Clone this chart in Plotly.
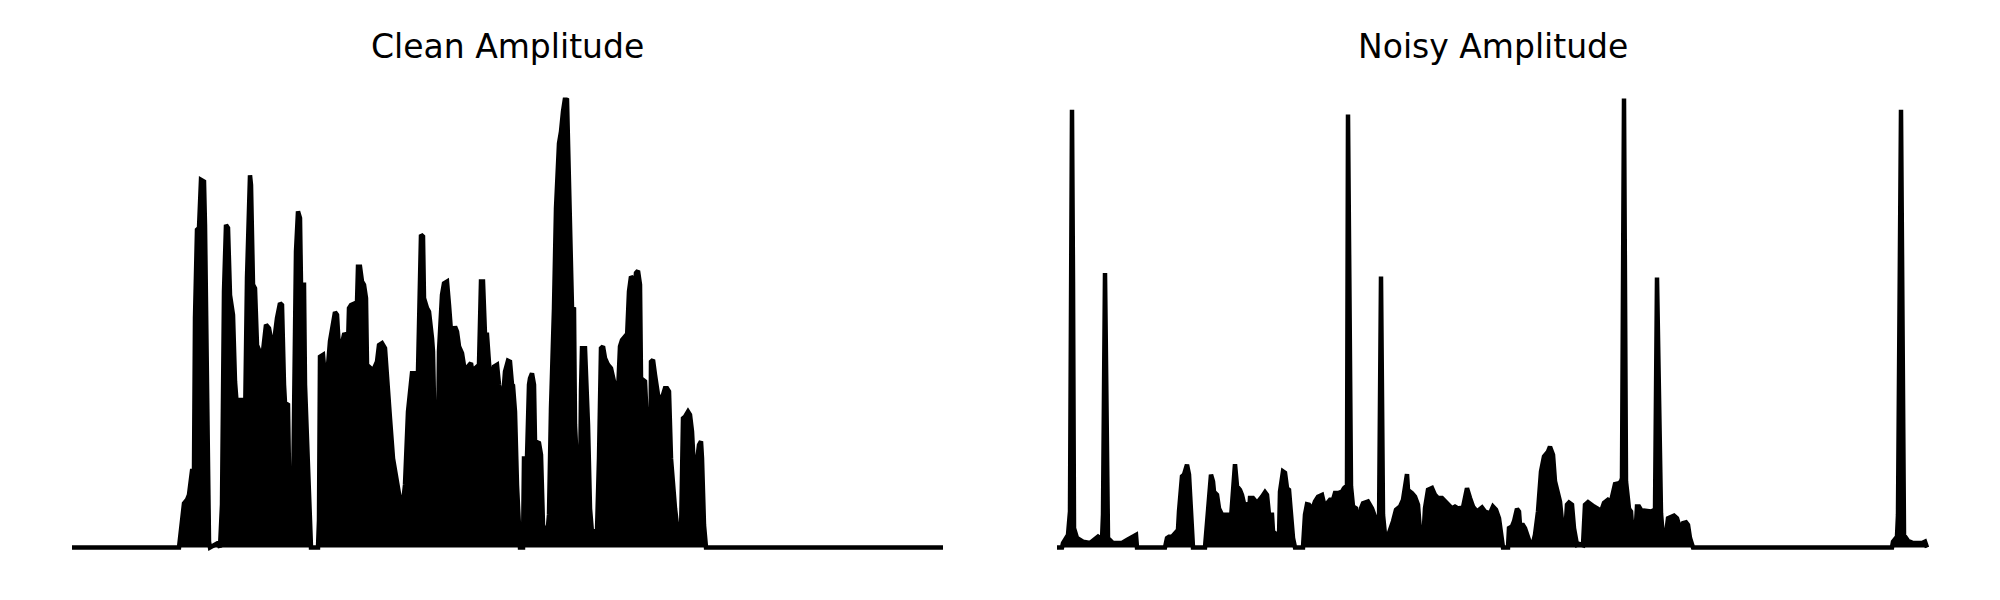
import plotly.graph_objects as go

# Envelope of the amplitude traces (frame index, normalised amplitude)
clean_frame = [0, 107, 112, 115, 117, 120, 122, 123, 125, 127, 129, 132, 133, 134, 137, 138, 146, 148,
               150, 152, 154, 156, 157, 158, 161, 163, 165, 168, 170, 172, 173, 175, 178, 179, 181, 183,
               185, 188, 189, 190, 191, 194, 197, 201, 205, 208, 210, 212, 213, 216, 217, 221, 222, 224,
               226, 228, 229, 232, 233, 237, 239, 246, 247, 248, 251, 253, 255, 258, 261, 263, 265, 267,
               269, 272, 274, 276, 277, 279, 283, 285, 286, 288, 290, 292, 294, 295, 299, 301, 302, 305,
               307, 310, 313, 315, 318, 321, 326, 330, 333, 336, 340, 343, 346, 347, 349, 351, 352, 355,
               357, 360, 361, 363, 365, 367, 370, 372, 375, 377, 379, 381, 383, 385, 387, 390, 392, 394,
               396, 399, 401, 403, 405, 407, 409, 411, 413, 415, 417, 419, 422, 425, 427, 429, 431, 433,
               436, 438, 440, 441, 443, 445, 448, 451, 452, 455, 457, 458, 460, 462, 463, 467, 469, 471,
               473, 475, 477, 479, 482, 484, 487, 489, 491, 493, 495, 497, 499, 500, 502, 503, 506, 508,
               509, 510, 513, 514, 516, 518, 521, 523, 525, 527, 529, 531, 533, 536, 539, 542, 544, 546,
               548, 550, 553, 555, 557, 559, 561, 563, 564, 566, 568, 569, 573, 575, 578, 579, 581, 583,
               586, 588, 590, 593, 595, 597, 599, 603, 607, 609, 611, 613, 616, 618, 620, 622, 624, 627,
               629, 630, 632, 634, 871]
clean_amp = [0.0, 0.0, 0.098, 0.106, 0.117, 0.170, 0.170, 0.510, 0.706, 0.710, 0.817, 0.813, 0.717, 0.524,
             0.013, 0.0, 0.01, 0.0,
             0.095, 0.569, 0.717, 0.710, 0.569, 0.561, 0.517, 0.369, 0.310, 0.328, 0.328, 0.302, 0.273,
             0.598, 0.827, 0.806, 0.584, 0.576,
             0.450, 0.436, 0.428, 0.213, 0.436, 0.495, 0.487, 0.439, 0.510, 0.543, 0.539, 0.362, 0.321,
             0.317, 0.169, 0.102, 0.362, 0.658,
             0.747, 0.732, 0.584, 0.584, 0.362, 0.065, 0.0, 0.0, 0.061, 0.424, 0.428, 0.376, 0.376, 0.458,
             0.495, 0.523, 0.517, 0.439,
             0.443, 0.473, 0.474, 0.450, 0.532, 0.539, 0.543, 0.543, 0.624, 0.624, 0.591, 0.584, 0.554,
             0.406, 0.398, 0.198, 0.398, 0.413,
             0.450, 0.454, 0.443, 0.369, 0.287, 0.198, 0.124, 0.080, 0.139, 0.302, 0.387, 0.387, 0.391,
             0.547, 0.695, 0.691, 0.554, 0.532,
             0.524, 0.465, 0.436, 0.213, 0.021, 0.436, 0.561, 0.587, 0.591, 0.539, 0.480, 0.476, 0.491,
             0.480, 0.447, 0.432, 0.398, 0.376,
             0.402, 0.410, 0.380, 0.398, 0.402, 0.406, 0.591, 0.591, 0.473, 0.473, 0.410, 0.362, 0.402,
             0.406, 0.362, 0.332, 0.332, 0.391,
             0.415, 0.413, 0.362, 0.360, 0.302, 0.139, 0.0, 0.0, 0.198, 0.198, 0.362, 0.376, 0.387, 0.362,
             0.236, 0.232, 0.206, 0.050,
             0.036, 0.021, 0.073, 0.310, 0.532, 0.754, 0.898, 0.924, 0.969, 0.998, 0.995, 0.791, 0.643,
             0.532, 0.530, 0.273, 0.132, 0.124,
             0.347, 0.443, 0.443, 0.384, 0.273, 0.087, 0.006, 0.036, 0.036, 0.198, 0.443, 0.447, 0.421,
             0.406, 0.398, 0.369, 0.362, 0.343,
             0.447, 0.461, 0.469, 0.465, 0.569, 0.602, 0.598, 0.584, 0.610, 0.615, 0.584, 0.376, 0.369,
             0.273, 0.036, 0.413, 0.417, 0.384,
             0.339, 0.332, 0.332, 0.354, 0.354, 0.347, 0.198, 0.087, 0.013, 0.028, 0.287, 0.291, 0.302,
             0.295, 0.258, 0.173, 0.173, 0.228,
             0.236, 0.198, 0.050, 0.0, 0.0]

noisy_frame = [0, 5, 6, 9, 11, 13, 14, 15, 16, 17, 20, 26, 33, 38, 41, 45, 46, 48, 50, 51, 56, 65, 70, 75,
               79, 80, 108, 110, 112, 115, 118, 121, 122, 125, 127, 130, 132, 134, 136, 148, 150, 152, 154,
               156, 157, 160, 162, 165, 168, 171, 174, 175, 178, 180, 183, 185, 187, 190, 191, 193, 196,
               199, 201, 205, 208, 210, 212, 215, 216, 220, 222, 223, 226, 228, 230, 232, 234, 236, 238,
               246, 248, 250, 252, 255, 258, 261, 265, 267, 270, 273, 276, 278, 281, 285, 287, 290, 291,
               294, 296, 299, 301, 304, 306, 311, 315, 318, 320, 322, 324, 326, 328, 332, 336, 339, 343,
               346, 350, 351, 355, 358, 361, 363, 366, 368, 371, 375, 378, 381, 385, 388, 391, 395, 398,
               401, 406, 410, 413, 416, 420, 425, 428, 433, 436, 439, 442, 444, 446, 451, 452, 455, 457,
               460, 462, 463, 466, 468, 471, 473, 476, 478, 481, 484, 487, 491, 493, 496, 498, 501, 503,
               506, 508, 510, 512, 515, 517, 520, 522, 526, 528, 531, 534, 537, 541, 544, 547, 551, 554,
               556, 558, 562, 564, 565, 567, 569, 572, 574, 576, 578, 580, 582, 585, 587, 591, 594, 596,
               598, 600, 604, 606, 608, 611, 614, 617, 620, 622, 624, 626, 629, 631, 633, 636, 835, 836,
               840, 841, 844, 846, 847, 851, 856, 861, 865, 868, 870]
noisy_amp = [0.0, 0.0, 0.010, 0.021, 0.028, 0.080, 0.517, 0.973, 0.591, 0.043, 0.021, 0.013, 0.010, 0.017,
             0.024, 0.017, 0.073, 0.610, 0.073, 0.021, 0.010, 0.010, 0.017, 0.024,
             0.028, 0.0, 0.0, 0.021, 0.024, 0.024, 0.032, 0.039, 0.080, 0.158, 0.162, 0.184, 0.162, 0.073,
             0.0, 0.0, 0.050, 0.124, 0.162,
             0.147, 0.124, 0.117, 0.087, 0.073, 0.073, 0.073, 0.065, 0.102, 0.185, 0.136, 0.128, 0.117,
             0.098, 0.095, 0.043, 0.110, 0.110,
             0.102, 0.102, 0.113, 0.123, 0.117, 0.073, 0.073, 0.036, 0.028, 0.021, 0.124, 0.169, 0.166,
             0.132, 0.128, 0.073, 0.021, 0.0,
             0.0, 0.073, 0.096, 0.095, 0.084, 0.102, 0.113, 0.117, 0.098, 0.098, 0.106, 0.106, 0.121,
             0.121, 0.124, 0.132, 0.138, 0.962,
             0.136, 0.091, 0.087, 0.043, 0.087, 0.098, 0.102, 0.087, 0.065, 0.050, 0.043, 0.602, 0.073,
             0.028, 0.032, 0.058, 0.084, 0.091,
             0.106, 0.163, 0.128, 0.121, 0.113, 0.095, 0.036, 0.006, 0.087, 0.128, 0.132, 0.117, 0.110,
             0.110, 0.102, 0.095, 0.087, 0.091,
             0.087, 0.089, 0.132, 0.110, 0.091, 0.080, 0.089, 0.080, 0.076, 0.091, 0.084, 0.065, 0.036,
             0.0, 0.0, 0.043, 0.047, 0.058,
             0.086, 0.080, 0.050, 0.050, 0.043, 0.021, 0.010, 0.010, 0.028, 0.080, 0.169, 0.202, 0.213,
             0.224, 0.206, 0.147, 0.117, 0.102,
             0.036, 0.024, 0.095, 0.100, 0.095, 0.043, 0.006, 0.008, 0.005, 0.095, 0.101, 0.095, 0.091,
             0.086, 0.080, 0.099, 0.106, 0.102,
             0.125, 0.141, 0.143, 0.147, 0.154, 0.998, 0.147, 0.086, 0.080, 0.021, 0.014, 0.091, 0.091,
             0.080, 0.082, 0.080, 0.080, 0.082,
             0.076, 0.600, 0.076, 0.021, 0.012, 0.065, 0.069, 0.071, 0.065, 0.050, 0.044, 0.054, 0.056,
             0.050, 0.021, 0.0, 0.0, 0.013,
             0.024, 0.073, 0.973, 0.147, 0.028, 0.015, 0.010, 0.010, 0.010, 0.013, 0.0]

titles = ["Clean Amplitude", "Noisy Amplitude"]

fig = go.Figure()
panels = [(clean_frame, clean_amp, "x", "y"), (noisy_frame, noisy_amp, "x2", "y2")]
for fr, amp, xa, ya in panels:
    fig.add_trace(go.Scatter(
        x=fr, y=amp, mode="lines", xaxis=xa, yaxis=ya,
        line=dict(color="black", width=4.5),
        fill="tozeroy", fillcolor="black", showlegend=False, hoverinfo="skip"))

ydom = [0.0725, 0.8375]
xdom1 = [0.034, 0.4735]
xdom2 = [0.5265, 0.966]
ax_common = dict(visible=False, showgrid=False, zeroline=False, fixedrange=True)
fig.update_layout(
    width=2000, height=600,
    margin=dict(l=0, r=0, t=0, b=0),
    paper_bgcolor="white", plot_bgcolor="white",
    xaxis=dict(domain=xdom1, range=[-4, 875], **ax_common),
    yaxis=dict(domain=ydom, range=[-0.02, 1.0], **ax_common),
    xaxis2=dict(domain=xdom2, range=[-4, 875], anchor="y2", **ax_common),
    yaxis2=dict(domain=ydom, range=[-0.02, 1.0], anchor="x2", **ax_common),
    font=dict(family="DejaVu Sans", color="black"),
)
for dom, t in zip([xdom1, xdom2], titles):
    fig.add_annotation(text=t, xref="paper", yref="paper", x=(dom[0] + dom[1]) / 2, y=0.923,
                       xanchor="center", yanchor="middle", showarrow=False,
                       font=dict(family="DejaVu Sans", size=33, color="black"))

fig.write_html("out.html", config={"displayModeBar": False},
               post_script="document.body.style.margin='0';document.body.style.padding='0';")
